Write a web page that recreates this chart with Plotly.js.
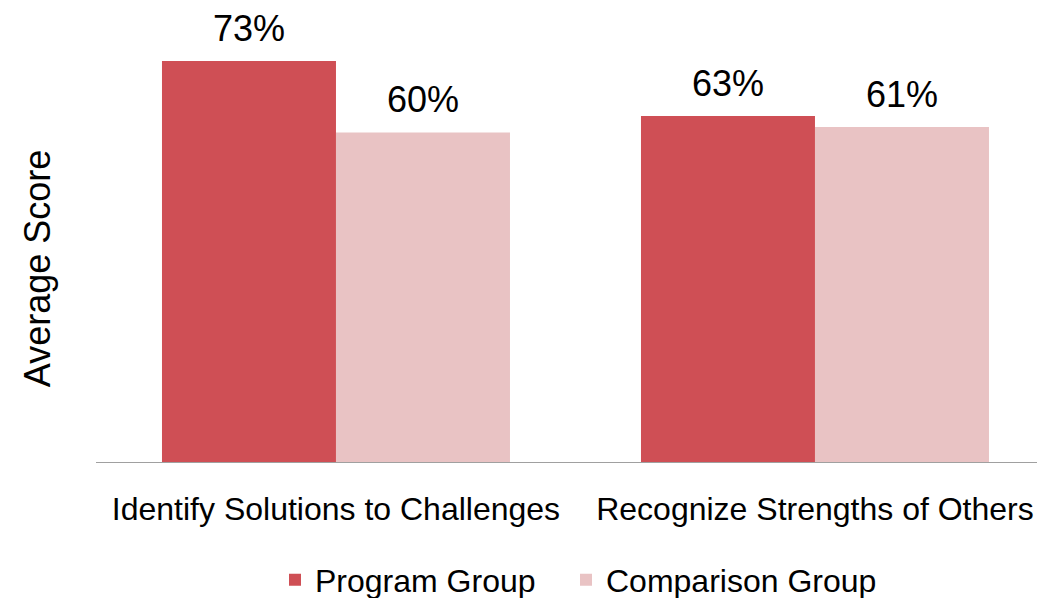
<!DOCTYPE html>
<html>
<head>
<meta charset="utf-8">
<script src="https://cdn.plot.ly/plotly-3.0.1.min.js"></script>
<style>html,body{margin:0;padding:0;background:#fff;}#chart{width:1037px;height:598px;}</style>
</head>
<body>
<div id="chart"></div>
<script>
var categories = ['Identify Solutions to Challenges', 'Recognize Strengths of Others'];
var seriesNames = ['Program Group', 'Comparison Group'];
var programValues = [73, 63];
var comparisonValues = [60, 61];
var seriesColors = ['#CF4F55', '#E9C3C4'];
var yTitle = 'Average Score';

var FONT = '"Liberation Sans", Arial, sans-serif';
var bargap = 0.2735;
var half = (1 - bargap) / 4;

var traces = [
  {type: 'bar', name: seriesNames[0], x: categories, y: programValues, legendwidth: 246,
   marker: {color: seriesColors[0]}, hoverinfo: 'none'},
  {type: 'bar', name: seriesNames[1], x: categories, y: comparisonValues, legendwidth: 290,
   marker: {color: seriesColors[1]}, hoverinfo: 'none'}
];

var annotations = [];
[programValues, comparisonValues].forEach(function (vals, s) {
  vals.forEach(function (v, i) {
    annotations.push({
      x: i + (s === 0 ? -half : half), xref: 'x', y: v, yref: 'y',
      text: v + '%', showarrow: false, yanchor: 'bottom', yshift: 10,
      font: {family: FONT, size: 36, color: '#000'}
    });
  });
});
annotations.push({
  text: yTitle, textangle: -90, showarrow: false,
  xref: 'paper', yref: 'paper', x: -0.062, y: 0.428, xanchor: 'center', yanchor: 'middle',
  font: {family: FONT, size: 36, color: '#000'}
});

var layout = {
  width: 1037, height: 598,
  margin: {l: 96, r: 0, t: 10, b: 136},
  paper_bgcolor: '#fff', plot_bgcolor: '#fff',
  barmode: 'group', bargap: bargap, bargroupgap: 0,
  showlegend: true,
  legend: {orientation: 'h', xref: 'container', yref: 'container', x: 275 / 1037, xanchor: 'left',
           y: 0.03, yanchor: 'middle',
           font: {family: FONT, size: 32, color: '#000'}, traceorder: 'normal'},
  xaxis: {type: 'category', range: [-0.501, 1.4635], showline: true, linecolor: '#A0A0A0', linewidth: 1,
          ticks: '', showgrid: false, zeroline: false, ticklabelstandoff: 19,
          tickfont: {family: FONT, size: 32, color: '#000'}},
  yaxis: {range: [0, 452 / 5.493], showticklabels: false, showgrid: false, zeroline: false,
          showline: false, ticks: ''},
  annotations: annotations
};

Plotly.newPlot('chart', traces, layout, {displayModeBar: false, staticPlot: true});
</script>
</body>
</html>
